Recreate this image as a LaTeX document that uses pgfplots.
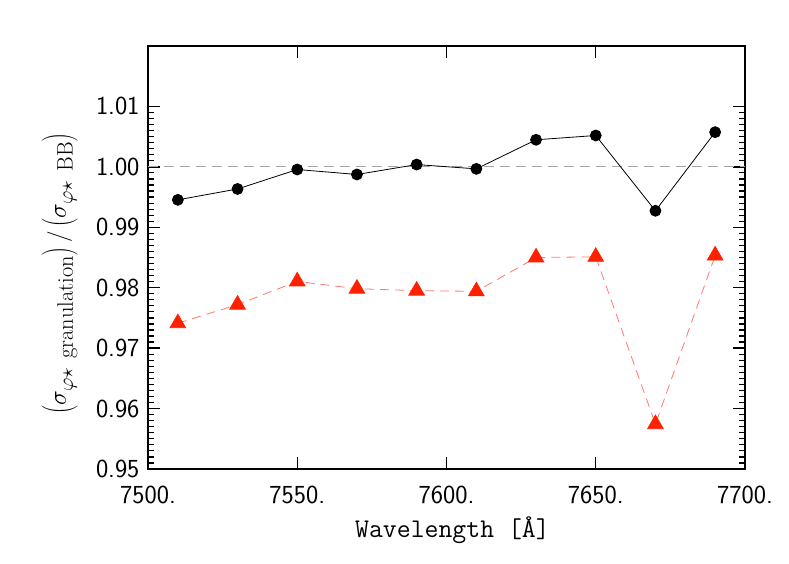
\documentclass[border=0pt]{standalone}
\usepackage{fontspec}
\usepackage{pgfplots}
\pgfplotsset{compat=1.18}
\definecolor{redmark}{RGB}{255,32,0}
\definecolor{redline}{RGB}{255,120,110}

\begin{document}
\begin{tikzpicture}
\useasboundingbox (-148pt,-95pt) rectangle (641pt,469pt);
\begin{axis}[
	scale only axis, width=597pt, height=423pt,
	xmin=7500, xmax=7700, ymin=0.95, ymax=1.02,
	xtick={7500,7550,7600,7650,7700},
	xticklabels={7500.,7550.,7600.,7650.,7700.},
	ytick={0.95,0.96,0.97,0.98,0.99,1.00,1.01},
	minor y tick num=9,
	yticklabel style={xshift=-5pt, /pgf/number format/fixed, /pgf/number format/fixed zerofill, /pgf/number format/precision=2, /pgf/number format/assume math mode=true},
	ticklabel style={font=\fontsize{26}{30}\selectfont\sffamily},
	xticklabel style={yshift=-13pt},
	tick align=inside, xtick pos=both, ytick pos=both,
	axis line style={line width=1.6pt},
	major tick style={line width=1.4pt, black},
	minor tick style={line width=1.2pt, black},
	major tick length=12pt, minor tick length=6pt,
	xlabel={\fontsize{27}{32}\selectfont\ttfamily Wavelength [Å]},
	xlabel style={at={(axis description cs:0.51,0)}, anchor=center, yshift=-61pt},
	ylabel={\fontsize{32}{36}\selectfont$\left(\sigma_{\varphi\star\ \mathrm{granulation}}\right)/\left(\sigma_{\varphi\star\ \mathrm{BB}}\right)$},
	ylabel style={at={(axis description cs:-0.148,0.462)}, anchor=center, rotate=0},
]
\addplot[gray!70, line width=0.8pt, dash pattern=on 10pt off 6pt] coordinates {(7500,1.0) (7700,1.0)};
\addplot[black, line width=0.8pt, mark=*, mark size=5.5pt, mark options={solid}] coordinates {
	(7510, 0.99454)
	(7530, 0.99634)
	(7550, 0.99956)
	(7570, 0.99874)
	(7590, 1.00038)
	(7610, 0.99967)
	(7630, 1.00448)
	(7650, 1.00519)
	(7670, 0.99273)
	(7690, 1.00574)
};
\addplot[redline, line width=0.8pt, dash pattern=on 9pt off 6pt, mark=triangle*, mark size=9pt, mark options={solid, fill=redmark, draw=redmark}] coordinates {
	(7510, 0.97412)
	(7530, 0.97720)
	(7550, 0.98104)
	(7570, 0.97984)
	(7590, 0.97951)
	(7610, 0.97940)
	(7630, 0.98500)
	(7650, 0.98511)
	(7670, 0.95742)
	(7690, 0.98533)
};
\end{axis}
\end{tikzpicture}
\end{document}
